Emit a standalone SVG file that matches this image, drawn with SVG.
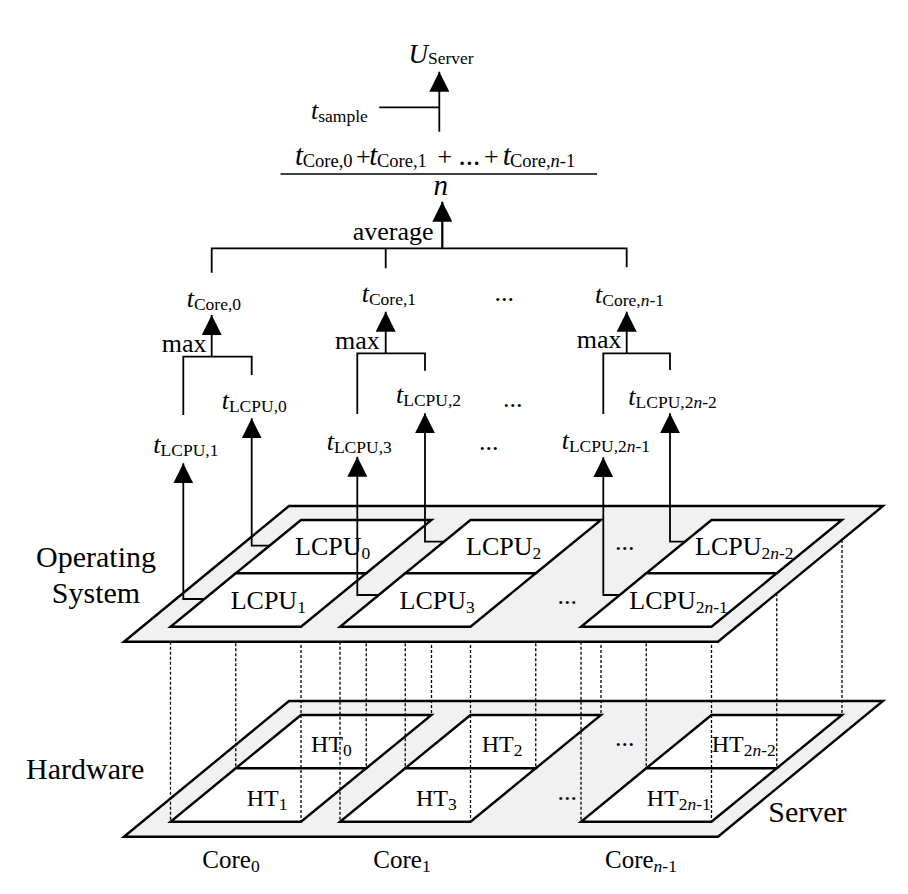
<svg xmlns="http://www.w3.org/2000/svg" width="908" height="894" viewBox="0 0 908 894">
<defs>
<style>
text{font-family:"Liberation Serif","Times New Roman",serif;fill:#000}
.t26{font-size:26px}
.t24{font-size:24px}
.t25{font-size:25px}
.t28{font-size:29px}
.t30{font-size:30px}
.it{font-style:italic}
.sb{font-size:17.5px}
.sb19{font-size:18.5px}
.plane{fill:#f1f1f1;stroke:#000;stroke-width:2.4;stroke-linejoin:miter}
.cell{fill:#fff;stroke:#000;stroke-width:2.4;stroke-linejoin:miter}
.con{fill:none;stroke:#000;stroke-width:1.8}
.arr{fill:none;stroke:#000;stroke-width:1.8;marker-end:url(#ah)}
.dot{fill:none;stroke:#000;stroke-width:1.3;stroke-dasharray:3 2}
</style>
<marker id="ah" markerUnits="userSpaceOnUse" markerWidth="20" markerHeight="20" viewBox="0 0 20 20" refX="20" refY="10" orient="auto">
<path d="M0,0 L20,10 L0,20 Z" fill="#000"/>
</marker>
</defs>
<rect width="908" height="894" fill="#fff"/>

<!-- Hardware layer -->
<g id="hw-plane"><path class="plane" d="M124,836.7 L289,701 L883,701 L718,836.7 Z"/></g>
<g id="ht0"><path class="cell" d="M301,715 L431.5,715 L366.25,768.3 L235.75,768.3 Z"/></g>
<g id="ht1"><path class="cell" d="M235.75,768.3 L366.25,768.3 L301,821.7 L170.5,821.7 Z"/></g>
<g id="ht2"><path class="cell" d="M470.5,715 L601,715 L535.75,768.3 L405.25,768.3 Z"/></g>
<g id="ht3"><path class="cell" d="M405.25,768.3 L535.75,768.3 L470.5,821.7 L340,821.7 Z"/></g>
<g id="ht2n2"><path class="cell" d="M711.5,715 L842,715 L776.75,768.3 L646.25,768.3 Z"/></g>
<g id="ht2n1"><path class="cell" d="M646.25,768.3 L776.75,768.3 L711.5,821.7 L581,821.7 Z"/></g>

<!-- projections (dotted) -->
<g id="projections">
<path class="dot" d="M170.5,626.7 V821.7 M235.75,573.3 V768.3 M301,520 V821.7 M366.25,573.3 V768.3 M431.5,520 V715"/>
<path class="dot" d="M340,626.7 V821.7 M405.25,573.3 V768.3 M470.5,520 V821.7 M535.75,573.3 V768.3 M601,520 V715"/>
<path class="dot" d="M581,626.7 V821.7 M646.25,573.3 V768.3 M711.5,520 V821.7 M776.75,573.3 V768.3 M842,520 V715"/>
</g>

<!-- OS layer -->
<g id="os-plane"><path class="plane" d="M124,641.7 L289,506 L883,506 L718,641.7 Z"/></g>
<g id="lcpu0"><path class="cell" d="M301,520 L431.5,520 L366.25,573.3 L235.75,573.3 Z"/><text class="t26" x="295" y="555">LCPU<tspan class="sb" dy="4">0</tspan></text></g>
<g id="lcpu1"><path class="cell" d="M235.75,573.3 L366.25,573.3 L301,626.7 L170.5,626.7 Z"/><text class="t26" x="230.7" y="609">LCPU<tspan class="sb" dy="4">1</tspan></text></g>
<g id="lcpu2"><path class="cell" d="M470.5,520 L601,520 L535.75,573.3 L405.25,573.3 Z"/><text class="t26" x="466" y="555">LCPU<tspan class="sb" dy="4">2</tspan></text></g>
<g id="lcpu3"><path class="cell" d="M405.25,573.3 L535.75,573.3 L470.5,626.7 L340,626.7 Z"/><text class="t26" x="399.5" y="609">LCPU<tspan class="sb" dy="4">3</tspan></text></g>
<g id="lcpu2n2"><path class="cell" d="M711.5,520 L842,520 L776.75,573.3 L646.25,573.3 Z"/><text class="t26" x="695" y="555">LCPU<tspan class="sb" dy="4">2<tspan class="it">n</tspan>-2</tspan></text></g>
<g id="lcpu2n1"><path class="cell" d="M646.25,573.3 L776.75,573.3 L711.5,626.7 L581,626.7 Z"/><text class="t26" x="629.3" y="609">LCPU<tspan class="sb" dy="4">2<tspan class="it">n</tspan>-1</tspan></text></g>
<text class="t26" x="615" y="550">...</text>
<text class="t26" x="557.5" y="604">...</text>

<!-- HT labels -->
<g id="ht-labels">
<text class="t24" x="311" y="751.7">HT<tspan class="sb" dy="4">0</tspan></text>
<text class="t24" x="246.7" y="805.7">HT<tspan class="sb" dy="4">1</tspan></text>
<text class="t24" x="481.7" y="751.7">HT<tspan class="sb" dy="4">2</tspan></text>
<text class="t24" x="416" y="805.7">HT<tspan class="sb" dy="4">3</tspan></text>
<text class="t24" x="711.7" y="751.7">HT<tspan class="sb" dy="4">2<tspan class="it">n</tspan>-2</tspan></text>
<text class="t24" x="646.7" y="805.7">HT<tspan class="sb" dy="4">2<tspan class="it">n</tspan>-1</tspan></text>
<text class="t26" x="615" y="746">...</text>
<text class="t26" x="557.5" y="800">...</text>
</g>

<!-- side labels -->
<g id="side-labels">
<text class="t30" x="96" y="566.7" text-anchor="middle">Operating</text>
<text class="t30" x="96" y="603.3" text-anchor="middle">System</text>
<text class="t30" x="26" y="779.3">Hardware</text>
<text class="t30" x="768.3" y="821.7">Server</text>
<text class="t25" x="202.3" y="868">Core<tspan class="sb" dy="4">0</tspan></text>
<text class="t25" x="373.3" y="868">Core<tspan class="sb" dy="4">1</tspan></text>
<text class="t25" x="605" y="868">Core<tspan class="sb" dy="4"><tspan class="it">n</tspan>-1</tspan></text>
</g>

<!-- tree labels -->
<g id="t-lcpu1"><text class="t26" x="153.3" y="452.7"><tspan class="it">t</tspan><tspan class="sb" dy="3">LCPU,1</tspan></text></g>
<g id="t-lcpu0"><text class="t26" x="221.7" y="409.3"><tspan class="it">t</tspan><tspan class="sb" dy="3">LCPU,0</tspan></text></g>
<g id="t-lcpu3"><text class="t26" x="326.7" y="450"><tspan class="it">t</tspan><tspan class="sb" dy="3">LCPU,3</tspan></text></g>
<g id="t-lcpu2"><text class="t26" x="396" y="403.3"><tspan class="it">t</tspan><tspan class="sb" dy="3">LCPU,2</tspan></text></g>
<g id="t-lcpu2n1"><text class="t26" x="561.7" y="449.3"><tspan class="it">t</tspan><tspan class="sb" dy="3">LCPU,2<tspan class="it">n</tspan>-1</tspan></text></g>
<g id="t-lcpu2n2"><text class="t26" x="628.3" y="405"><tspan class="it">t</tspan><tspan class="sb" dy="3">LCPU,2<tspan class="it">n</tspan>-2</tspan></text></g>
<g id="t-core0"><text class="t26" x="186.7" y="307.3"><tspan class="it">t</tspan><tspan class="sb" dy="3">Core,0</tspan></text></g>
<g id="t-core1"><text class="t26" x="361.7" y="302.3"><tspan class="it">t</tspan><tspan class="sb" dy="3">Core,1</tspan></text></g>
<g id="t-coren1"><text class="t26" x="595" y="303.3"><tspan class="it">t</tspan><tspan class="sb" dy="3">Core,<tspan class="it">n</tspan>-1</tspan></text></g>
<g id="ellipses">
<text class="t26" x="494.5" y="301">...</text>
<text class="t26" x="503" y="407">...</text>
<text class="t26" x="479" y="450">...</text>
</g>
<g id="max-labels">
<text class="t26" x="161.7" y="351.7">max</text>
<text class="t26" x="335" y="349">max</text>
<text class="t26" x="576.7" y="347.7">max</text>
</g>
<g id="average-label"><text class="t26" x="352.7" y="240">average</text></g>
<g id="formula">
<text class="t28" y="165"><tspan class="it" x="295">t</tspan><tspan class="sb19" x="302.7" dy="2">Core,0</tspan></text>
<text class="t26" x="356" y="165">+</text>
<text class="t28" y="165"><tspan class="it" x="369.3">t</tspan><tspan class="sb19" x="377" dy="2">Core,1</tspan></text>
<text class="t26" x="437.5" y="165">+</text>
<text class="t28" x="458.5" y="165">...</text>
<text class="t26" x="484" y="165">+</text>
<text class="t28" y="165"><tspan class="it" x="502.7">t</tspan><tspan class="sb19" x="510" dy="2">Core,<tspan class="it">n</tspan>-1</tspan></text>
<path d="M280.5,174 H597" fill="none" stroke="#000" stroke-width="1.4"/>
<text class="t28 it" x="433.5" y="195">n</text>
</g>
<g id="t-sample"><text class="t26" x="311" y="119"><tspan class="it">t</tspan><tspan class="sb" dy="3">sample</tspan></text></g>
<g id="u-server"><text x="408.5" y="63" style="font-size:27px"><tspan class="it">U</tspan><tspan class="sb" dy="1">Server</tspan></text></g>

<!-- connectors -->
<g id="connectors">
<path class="arr" d="M204.5,599 H183.3 V463.3"/>
<path class="arr" d="M269.5,545.7 H251.7 V418.3"/>
<path class="con" d="M183.3,415 V356.7 H251.7 V375"/>
<path class="arr" d="M211.7,356.7 V315"/>
<path class="arr" d="M378.7,595 H357.3 V456.7"/>
<path class="arr" d="M444,541.7 H425 V413.3"/>
<path class="con" d="M357.3,414 V353.3 H425 V370.7"/>
<path class="arr" d="M385.7,353.3 V311.7"/>
<path class="arr" d="M619.7,595 H603.3 V457.3"/>
<path class="arr" d="M685,541.7 H670 V413.3"/>
<path class="con" d="M603.3,414 V353.3 H670 V370"/>
<path class="arr" d="M626.7,353.3 V311.7"/>
<path class="con" d="M211.7,272.7 V248.3 H626.7 V267.3 M385.7,248.3 V268.3"/>
<path class="arr" d="M442.3,248.3 V201.7" style="stroke-width:2.2"/>
<path class="arr" d="M439.3,131.7 V71.7"/>
<path class="con" d="M379.3,107.3 H439.3"/>
</g>
</svg>
